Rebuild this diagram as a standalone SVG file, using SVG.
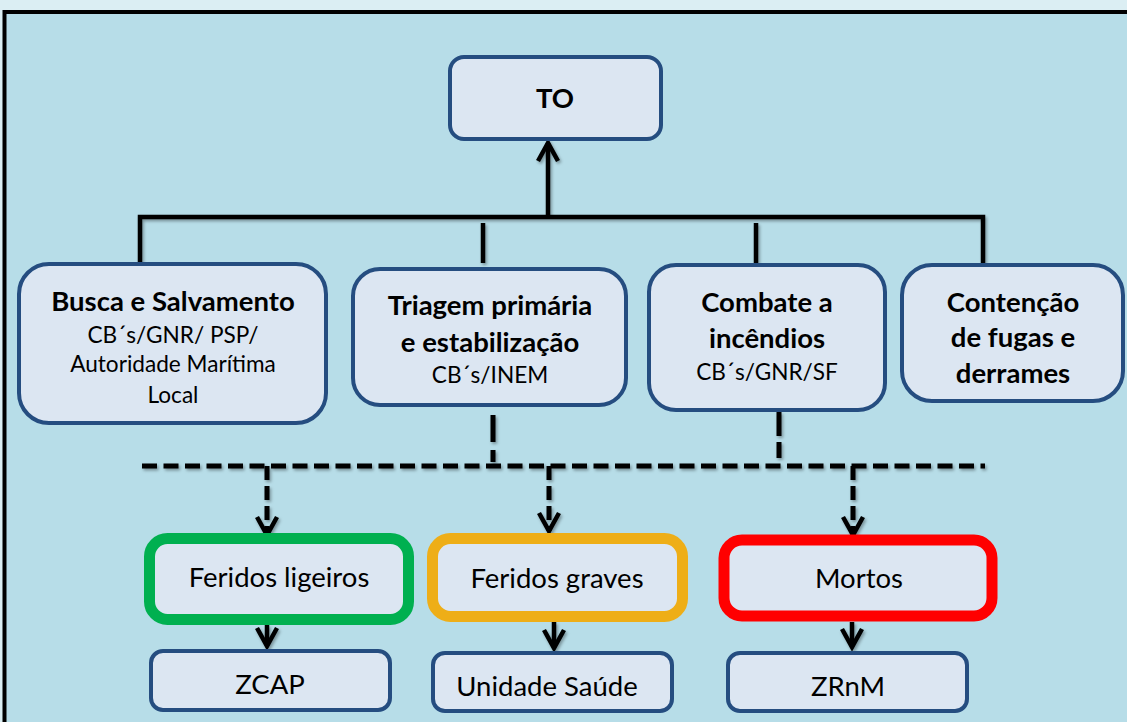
<svg xmlns="http://www.w3.org/2000/svg" width="1127" height="722" viewBox="0 0 1127 722">
<defs>
<style>
.bx{fill:#dce6f2;stroke:#254d80;stroke-width:4}
.cb{fill:#dce6f2;stroke-width:11}
.t{font-family:Lato,"Liberation Sans",sans-serif;fill:#000;text-anchor:middle}
.b{font-weight:bold;font-size:27.5px}
.r{font-size:22.6px}
.m{font-size:27.5px}
.ln{fill:none;stroke:#000;stroke-width:4.5}
.ds{fill:none;stroke:#000;stroke-width:5;stroke-dasharray:15 6.5}
.ah{fill:none;stroke:#000;stroke-width:4.5;stroke-dasharray:none;stroke-linejoin:miter}
</style>
<marker id="arr" markerUnits="userSpaceOnUse" markerWidth="30" markerHeight="30" viewBox="-25 -15 30 30" refX="0" refY="0" orient="auto" overflow="visible">
<path class="ah" d="M-18,-10 L0,0 L-18,10"/>
</marker>
<filter id="sh" x="-20%" y="-20%" width="140%" height="140%">
<feDropShadow dx="1.5" dy="2" stdDeviation="1.5" flood-color="#000" flood-opacity="0.35"/>
</filter>
</defs>
<rect x="0" y="0" width="1127" height="722" fill="#dbeef3"/>
<rect x="6" y="14" width="1121" height="708" fill="#b7dde8"/>
<line x1="4" y1="12" x2="1127" y2="12" stroke="#000" stroke-width="4"/>
<line x1="4.5" y1="10" x2="4.5" y2="722" stroke="#000" stroke-width="4"/>

<g id="connectors" filter="url(#sh)">
<path class="ln" d="M140,264 L140,217 L983,217 L983,263"/>
<line class="ln" x1="483" y1="223" x2="483" y2="263"/>
<line class="ln" x1="756" y1="223" x2="756" y2="263"/>
<line class="ln" x1="548" y1="217" x2="548" y2="143" marker-end="url(#arr)"/>
<line class="ds" x1="493" y1="415" x2="493" y2="462" style="stroke-dasharray:27 8"/>
<line class="ds" x1="779" y1="412" x2="779" y2="458" style="stroke-dasharray:24 6"/>
<line class="ds" x1="142" y1="466" x2="985" y2="466"/>
<line class="ds" x1="267" y1="466" x2="267" y2="535" style="stroke-dasharray:14 6" marker-end="url(#arr)"/>
<line class="ds" x1="549" y1="466" x2="549" y2="531" style="stroke-dasharray:14 6" marker-end="url(#arr)"/>
<line class="ds" x1="853" y1="466" x2="853" y2="535" style="stroke-dasharray:14 6" marker-end="url(#arr)"/>
<line class="ln" x1="267" y1="625" x2="267" y2="646" marker-end="url(#arr)"/>
<line class="ln" x1="554" y1="622" x2="554" y2="648" marker-end="url(#arr)"/>
<line class="ln" x1="852" y1="622" x2="852" y2="647" marker-end="url(#arr)"/>
</g>

<g id="to">
<rect class="bx" x="450" y="57" width="211" height="82" rx="14"/>
<text class="t" x="555" y="108" style="font-weight:bold;font-size:27.5px">TO</text>
</g>
<g id="busca">
<rect class="bx" x="19" y="264" width="307" height="159" rx="30"/>
<text class="t b" x="173" y="311">Busca e Salvamento</text>
<text class="t r" x="173" y="343">CB´s/GNR/ PSP/</text>
<text class="t r" x="173" y="372">Autoridade Marítima</text>
<text class="t r" x="173" y="403">Local</text>
</g>
<g id="triagem">
<rect class="bx" x="353" y="269" width="273" height="136" rx="27"/>
<text class="t b" x="490" y="315">Triagem primária</text>
<text class="t b" x="490" y="352">e estabilização</text>
<text class="t r" x="490" y="383">CB´s/INEM</text>
</g>
<g id="combate">
<rect class="bx" x="649" y="265" width="236" height="145" rx="27"/>
<text class="t b" x="767" y="312">Combate a</text>
<text class="t b" x="767" y="348">incêndios</text>
<text class="t r" x="767" y="380">CB´s/GNR/SF</text>
</g>
<g id="contencao">
<rect class="bx" x="902" y="265" width="221" height="136" rx="30"/>
<text class="t b" x="1013" y="312">Contenção</text>
<text class="t b" x="1013" y="347">de fugas e</text>
<text class="t b" x="1013" y="383">derrames</text>
</g>
<g id="feridos-ligeiros">
<rect class="cb" x="149.5" y="538.5" width="259" height="81" rx="18" stroke="#00b050"/>
<text class="t m" x="279" y="587">Feridos ligeiros</text>
</g>
<g id="feridos-graves">
<rect class="cb" x="432.5" y="538.5" width="250" height="78" rx="18" stroke="#eeae17"/>
<text class="t m" x="557" y="588">Feridos graves</text>
</g>
<g id="mortos">
<rect class="cb" x="724" y="540" width="268" height="76" rx="18" stroke="#ff0000"/>
<text class="t m" x="859" y="588">Mortos</text>
</g>
<g id="zcap">
<rect class="bx" x="151" y="651" width="239" height="59" rx="12"/>
<text class="t m" x="270" y="694">ZCAP</text>
</g>
<g id="unidade-saude">
<rect class="bx" x="433" y="653" width="239" height="58" rx="12"/>
<text class="t m" x="547" y="696">Unidade Saúde</text>
</g>
<g id="zrnm">
<rect class="bx" x="728" y="653" width="239" height="58" rx="12"/>
<text class="t m" x="848" y="696">ZRnM</text>
</g>
</svg>
